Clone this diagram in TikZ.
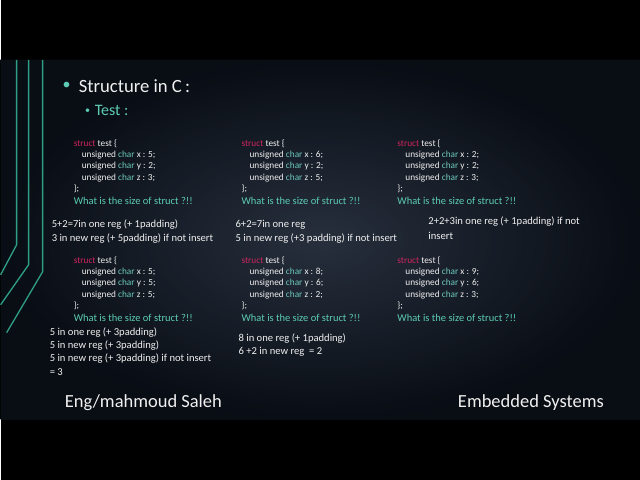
\documentclass[tikz,border=0pt]{standalone}
\usepackage{fontspec}
\setmainfont{Carlito}
\begin{document}
\begin{tikzpicture}[x=1pt,y=-1pt,
  txt/.style={anchor=west,inner sep=0,text=white!88!gray},
  code/.style={txt,font=\fontsize{9.3}{10}\selectfont},
  q/.style={anchor=west,inner sep=0,text=qc,font=\fontsize{10.5}{11}\selectfont},
  ans/.style={txt,font=\fontsize{10.6}{11}\selectfont},
  deco/.style={draw=decoc,line width=1.3pt}]
\definecolor{kwc}{HTML}{D0245E}
\definecolor{chc}{HTML}{6CC9BC}
\definecolor{qc}{HTML}{5CCCB4}
\definecolor{decoc}{HTML}{2E9F86}
\definecolor{bgc}{HTML}{121B2A}
\fill[black] (0,0) rectangle (640,480);
\shade[inner color=bgc!85!white, outer color=black!85!bgc] (0,60) rectangle (640,420);
\fill[bgc,opacity=0.4] (0,60) rectangle (640,420);
\draw[deco] (16,60) -- (16,245) -- (0,275);
\draw[deco] (28,60) -- (28,265) -- (0,305);
\draw[deco] (42,60) -- (42,272) -- (6,333);
\node[anchor=center,text=qc,font=\fontsize{16}{16}\selectfont] (b1) at (66,86) {•};
\node[txt,font=\fontsize{18.7}{19}\selectfont] (t1) at (78,86) {Structure in C\,:};
\node[anchor=center,text=qc,font=\fontsize{10}{10}\selectfont] (b2) at (87,111) {•};
\node[anchor=west,inner sep=0,text=qc,font=\fontsize{16}{16}\selectfont] (t2) at (94,111) {Test :};
\newcommand{\blk}[6]{%
 \node[code] (#1s) at (#2,#3) {\textcolor{kwc}{struct} test \{};
 \node[code] (#1x) at (#2+8,#3+11.3) {unsigned \textcolor{chc}{char} x : #4;};
 \node[code] (#1y) at (#2+8,#3+22.6) {unsigned \textcolor{chc}{char} y : #5;};
 \node[code] (#1z) at (#2+8,#3+33.9) {unsigned \textcolor{chc}{char} z : #6;};
 \node[code] (#1e) at (#2,#3+45.2) {\};};
 \node[q] (#1q) at (#2,#3+57) {What is the size of struct ?!!};}
\blk{a}{73}{144}{5}{2}{3}
\blk{b}{241}{144}{6}{2}{5}
\blk{c}{397}{144}{2}{2}{3}
\blk{d}{73}{261}{5}{5}{5}
\blk{e}{241}{261}{8}{6}{2}
\blk{f}{397}{261}{9}{6}{3}
\node[ans] (a1) at (51,225) {5+2=7in one reg (+ 1padding)};
\node[ans] (a2) at (51,239) {3 in new reg (+ 5padding) if not insert};
\node[ans] (b1a) at (235,225) {6+2=7in one reg};
\node[ans] (b2a) at (235,239) {5 in new reg (+3 padding) if not insert};
\node[ans] (c1) at (428,222) {2+2+3in one reg (+ 1padding) if not};
\node[ans] (c2) at (428,236) {insert};
\node[ans] (d1) at (49,333) {5 in one reg (+ 3padding)};
\node[ans] (d2) at (49,346) {5 in new reg (+ 3padding)};
\node[ans] (d3) at (49,359) {5 in new reg (+ 3padding) if not insert};
\node[ans] (d4) at (49,372) {= 3};
\node[ans] (e1) at (238,339) {8 in one reg (+ 1padding)};
\node[ans] (e2) at (238,352) {6 +2 in new reg\ \ = 2};
\node[txt,font=\fontsize{18.5}{19}\selectfont] (f1) at (64,403) {Eng/mahmoud Saleh};
\node[txt,anchor=east,font=\fontsize{18.5}{19}\selectfont] (f2) at (604,403) {Embedded Systems};
\end{tikzpicture}
\end{document}
